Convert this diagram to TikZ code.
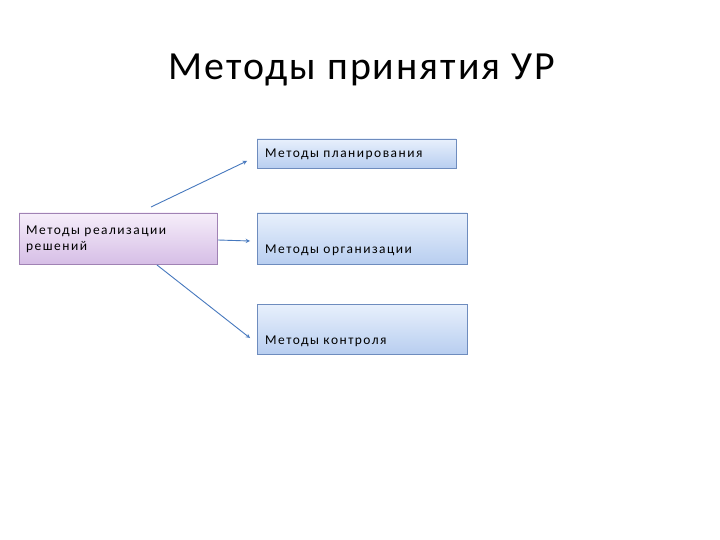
\documentclass[tikz,border=0pt]{standalone}
\usepackage{fontspec}
\setmainfont{Carlito}
\newfontfamily\boxfont[LetterSpace=11]{Carlito}
\newfontfamily\titlefont[LetterSpace=5]{Carlito}
\definecolor{bord}{RGB}{110,140,190}
\definecolor{btop}{RGB}{232,240,252}
\definecolor{bbot}{RGB}{184,206,240}
\definecolor{pbord}{RGB}{160,130,180}
\definecolor{ptop}{RGB}{246,238,250}
\definecolor{pbot}{RGB}{214,190,230}
\definecolor{arrc}{RGB}{70,120,190}
\begin{document}
\begin{tikzpicture}[x=1bp,y=-1bp,
  bbox/.style={draw=bord, line width=0.8pt, top color=btop, bottom color=bbot},
  pbox/.style={draw=pbord, line width=0.8pt, top color=ptop, bottom color=pbot},
  txt/.style={anchor=west, inner sep=0pt, font=\boxfont\fontsize{13.5}{16}\selectfont, align=left},
  arr/.style={draw=arrc, line width=0.9pt, -stealth}]
\useasboundingbox (0,0) rectangle (720,540);
\fill[white] (0,0) rectangle (720,540);
\node (title) at (362,70) {\titlefont\fontsize{40}{44}\selectfont Методы принятия УР};
\path[pbox] (19,213) rectangle (217,264);
\path[bbox] (257,139) rectangle (456,168);
\path[bbox] (257,213) rectangle (467,264);
\path[bbox] (257,304) rectangle (467,354);
\node[txt] (real) at (26,239) {Методы реализации\\решений};
\node[txt] (plan) at (265,154) {Методы планирования};
\node[txt] (org) at (265,250) {Методы организации};
\node[txt] (ctrl) at (265,341) {Методы контроля};
\coordinate (a1) at (151,207); \coordinate (b1) at (247,161);
\coordinate (a2) at (218,240); \coordinate (b2) at (250,241);
\coordinate (a3) at (157,265); \coordinate (b3) at (250,338);
\draw[arr] (a1) -- (b1);
\draw[arr] (a2) -- (b2);
\draw[arr] (a3) -- (b3);
\end{tikzpicture}
\end{document}
